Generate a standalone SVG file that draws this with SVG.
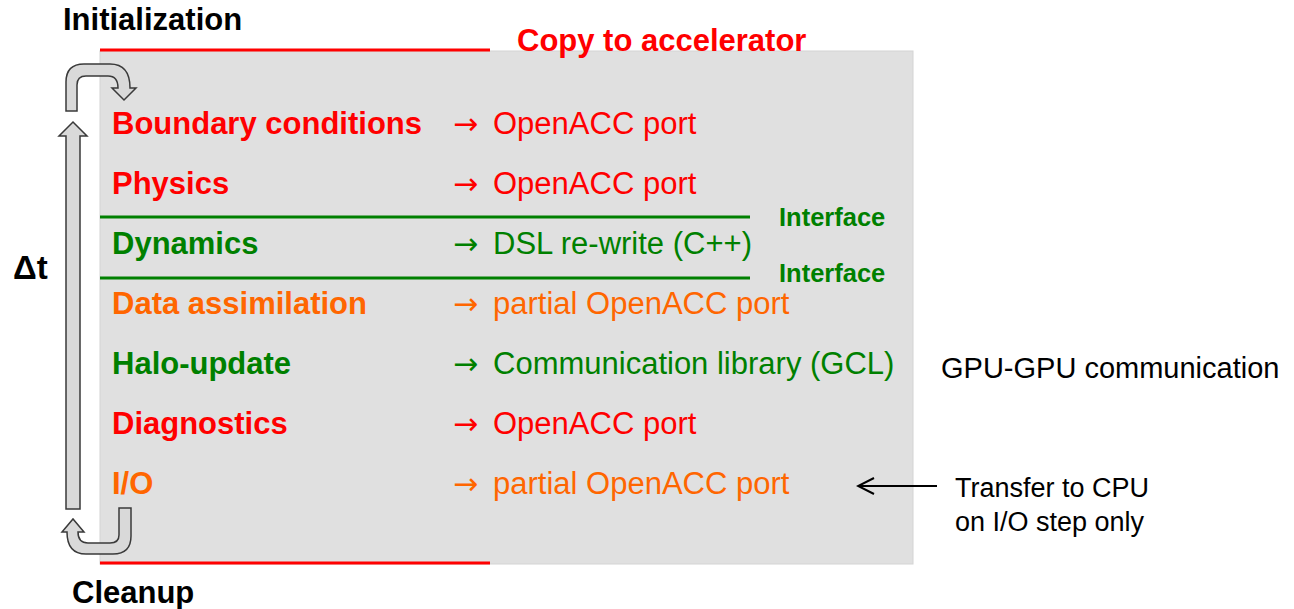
<svg xmlns="http://www.w3.org/2000/svg" width="1294" height="609" viewBox="0 0 1294 609">
<style>
text{font-family:"Liberation Sans",Arial,sans-serif}
.b{font-weight:bold;font-size:31px}
.r{font-size:31px}
.ar{font-family:"DejaVu Sans",sans-serif;font-size:30px}
.red{fill:#ff0000}.grn{fill:#008000}.org{fill:#ff6600}.blk{fill:#000}
.arr{fill:#d9d9d9;stroke:#3a3a3a;stroke-width:1.5;stroke-linejoin:miter}
</style>
<defs>
<marker id="open" viewBox="0 0 20 20" refX="18" refY="10" markerWidth="20" markerHeight="20" markerUnits="userSpaceOnUse" orient="auto">
<path d="M2,2 L18,10 L2,18" fill="none" stroke="#000" stroke-width="2"/>
</marker>
</defs>
<rect id="panel" x="100" y="51" width="813" height="513" fill="#e0e0e0" stroke="#d4d4d4" stroke-width="1"/>
<g id="lines">
<line x1="100" y1="50" x2="490" y2="50" stroke="#ff0000" stroke-width="3"/>
<line x1="100" y1="563" x2="490" y2="563" stroke="#ff0000" stroke-width="3"/>
<line x1="100" y1="217" x2="750" y2="217" stroke="#008000" stroke-width="3"/>
<line x1="100" y1="278" x2="750" y2="278" stroke="#008000" stroke-width="3"/>
</g>
<g id="loop">
<path class="arr" d="M66,111 L66,82 Q66,64 84,64 L110,64 Q130,64 130,88 L136,88 L124,100 L112,88 L118,88 Q118,76 108,76 L86,76 Q77,76 77,85 L77,111 Z"/>
<path class="arr" d="M66,509 L66,136 L59,136 L73,122 L87,136 L80,136 L80,509 Z"/>
<path class="arr" d="M119,508 L131,508 L131,536 Q131,554 113,554 L86,554 Q67,554 67,532 L62,532 L73,519 L84,532 L78,532 Q78,543 88,543 L110,543 Q119,543 119,535 Z"/>
</g>
<g id="labels">
<text class="b blk" x="63" y="30">Initialization</text>
<text class="b blk" x="72" y="603">Cleanup</text>
<text class="b blk" x="13" y="279" style="font-size:33px">Δt</text>
<text class="b red" x="517" y="51">Copy to accelerator</text>
<text class="b grn" x="779" y="226" style="font-size:25.5px">Interface</text>
<text class="b grn" x="779" y="282" style="font-size:25.5px">Interface</text>
</g>
<g id="row1"><text class="b red" x="112" y="134">Boundary conditions</text><text class="r red" y="134"><tspan class="ar" x="453">→</tspan><tspan x="493">OpenACC port</tspan></text></g>
<g id="row2"><text class="b red" x="112" y="194">Physics</text><text class="r red" y="194"><tspan class="ar" x="453">→</tspan><tspan x="493">OpenACC port</tspan></text></g>
<g id="row3"><text class="b grn" x="112" y="254">Dynamics</text><text class="r grn" y="254"><tspan class="ar" x="453">→</tspan><tspan x="493">DSL re-write (C++)</tspan></text></g>
<g id="row4"><text class="b org" x="112" y="314">Data assimilation</text><text class="r org" y="314"><tspan class="ar" x="453">→</tspan><tspan x="493">partial OpenACC port</tspan></text></g>
<g id="row5"><text class="b grn" x="112" y="374">Halo-update</text><text class="r grn" y="374"><tspan class="ar" x="453">→</tspan><tspan x="493">Communication library (GCL)</tspan></text></g>
<g id="row6"><text class="b red" x="112" y="434">Diagnostics</text><text class="r red" y="434"><tspan class="ar" x="453">→</tspan><tspan x="493">OpenACC port</tspan></text></g>
<g id="row7"><text class="b org" x="112" y="494">I/O</text><text class="r org" y="494"><tspan class="ar" x="453">→</tspan><tspan x="493">partial OpenACC port</tspan></text></g>
<g id="gpu"><text class="blk" x="941" y="378" style="font-size:29px">GPU-GPU communication</text></g>
<g id="transfer"><text class="blk" x="955" y="497" style="font-size:27px">Transfer to CPU</text><text class="blk" x="955" y="531" style="font-size:27px">on I/O step only</text></g>
<g id="connectors">
<line x1="937" y1="486" x2="858" y2="486" stroke="#000" stroke-width="2" marker-end="url(#open)"/>
</g>
</svg>
